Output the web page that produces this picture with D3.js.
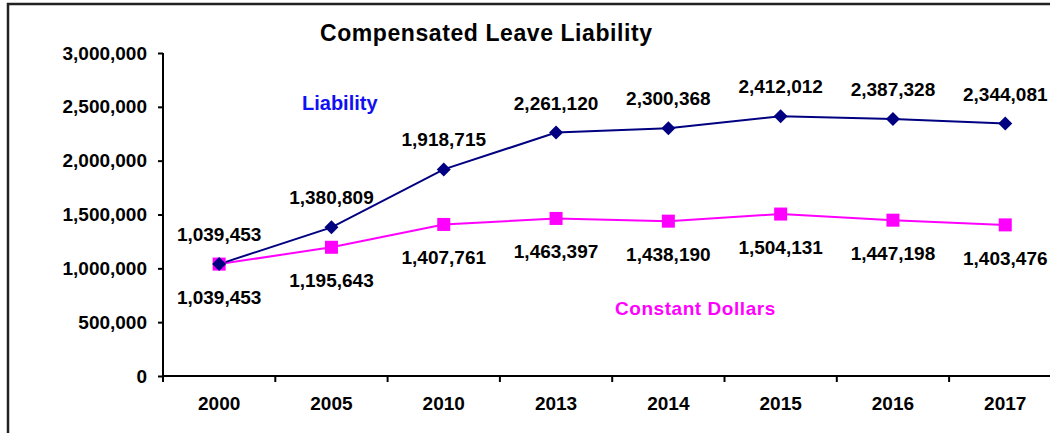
<!DOCTYPE html>
<meta charset="utf-8">
<title>Compensated Leave Liability</title>
<script src="https://d3js.org/d3.v7.min.js"></script>
<style>
  body { margin: 0; background: #fff; }
  text { font-family: Arial, "Liberation Sans", sans-serif; font-weight: bold; }
</style>
<body>
<script>

var years = ["2000", "2005", "2010", "2013", "2014", "2015", "2016", "2017"];
var liability = [1039453, 1380809, 1918715, 2261120, 2300368, 2412012, 2387328, 2344081];
var constantDollars = [1039453, 1195643, 1407761, 1463397, 1438190, 1504131, 1447198, 1403476];
var yTicks = [0, 500000, 1000000, 1500000, 2000000, 2500000, 3000000];

var width = 1050, height = 433;

var svg = d3.select("body").append("svg")
    .attr("width", width)
    .attr("height", height);

// outer frame (right and bottom edges run off the picture)
svg.append("rect")
    .attr("x", 8).attr("y", 4)
    .attr("width", 1100).attr("height", 500)
    .attr("fill", "none")
    .attr("stroke", "#222")
    .attr("stroke-width", 2.5);

var x = d3.scaleBand().domain(years).range([163, 1061.4]);
var y = d3.scaleLinear().domain([0, 3000000]).range([376, 53]);
var fmt = d3.format(",");

svg.append("text")
    .attr("x", 486).attr("y", 41)
    .attr("text-anchor", "middle")
    .style("font-size", "23px")
    .attr("textLength", 332)
    .text("Compensated Leave Liability");

// y axis
var yAxis = svg.append("g")
    .attr("transform", "translate(163,0)")
    .call(d3.axisLeft(y).tickValues(yTicks).tickFormat(fmt).tickSize(5).tickPadding(11));
yAxis.select(".domain").attr("stroke-width", 2).attr("d", "M0," + y(3000000) + "V" + y(0));
yAxis.selectAll(".tick line").attr("stroke-width", 2);
yAxis.selectAll(".tick text").style("font-size", "19px").attr("fill", "#000");

// x axis: ticks sit on category boundaries
var xAxis = svg.append("g").attr("transform", "translate(0,376)");
xAxis.append("line")
    .attr("x1", 163).attr("x2", 1061)
    .attr("stroke", "#000").attr("stroke-width", 2);
xAxis.selectAll("line.tk")
    .data(years.concat(["end"]))
    .join("line")
    .attr("class", "tk")
    .attr("x1", function(d, i) { return x.range()[0] + i * x.step(); })
    .attr("x2", function(d, i) { return x.range()[0] + i * x.step(); })
    .attr("y1", 0).attr("y2", 6)
    .attr("stroke", "#000").attr("stroke-width", 2);
xAxis.selectAll("text")
    .data(years)
    .join("text")
    .attr("x", function(d) { return x(d) + x.bandwidth() / 2; })
    .attr("y", 34)
    .attr("text-anchor", "middle")
    .style("font-size", "19px")
    .text(function(d) { return d; });

var cx = function(d, i) { return x(years[i]) + x.bandwidth() / 2; };

var line = d3.line()
    .x(function(d, i) { return cx(d, i); })
    .y(function(d) { return y(d); });

// constant dollars series
svg.append("path")
    .datum(constantDollars)
    .attr("d", line)
    .attr("fill", "none")
    .attr("stroke", "#ff00ff")
    .attr("stroke-width", 2);

// liability series
svg.append("path")
    .datum(liability)
    .attr("d", line)
    .attr("fill", "none")
    .attr("stroke", "#000080")
    .attr("stroke-width", 2);

svg.selectAll("rect.sq")
    .data(constantDollars)
    .join("rect")
    .attr("class", "sq")
    .attr("x", function(d, i) { return cx(d, i) - 6.5; })
    .attr("y", function(d) { return y(d) - 6.5; })
    .attr("width", 13).attr("height", 13)
    .attr("fill", "#ff00ff");

svg.selectAll("path.dm")
    .data(liability)
    .join("path")
    .attr("class", "dm")
    .attr("transform", function(d, i) { return "translate(" + cx(d, i) + "," + y(d) + ")"; })
    .attr("d", "M0,-7L7,0L0,7L-7,0Z")
    .attr("fill", "#000080");

// value labels
svg.selectAll("text.lv")
    .data(liability)
    .join("text")
    .attr("class", "lv")
    .attr("x", cx)
    .attr("y", function(d) { return y(d) - 23; })
    .attr("text-anchor", "middle")
    .style("font-size", "19px")
    .text(fmt);

svg.selectAll("text.cv")
    .data(constantDollars)
    .join("text")
    .attr("class", "cv")
    .attr("x", cx)
    .attr("y", function(d) { return y(d) + 40; })
    .attr("text-anchor", "middle")
    .style("font-size", "19px")
    .text(fmt);

// series names
svg.append("text")
    .attr("x", 302).attr("y", 110)
    .attr("fill", "#1010f0")
    .style("font-size", "20px")
    .text("Liability");

svg.append("text")
    .attr("x", 615).attr("y", 315)
    .attr("fill", "#ff00ff")
    .style("font-size", "19px")
    .style("letter-spacing", "-0.3px")
    .attr("textLength", 160)
    .text("Constant Dollars");

</script>
</body>
